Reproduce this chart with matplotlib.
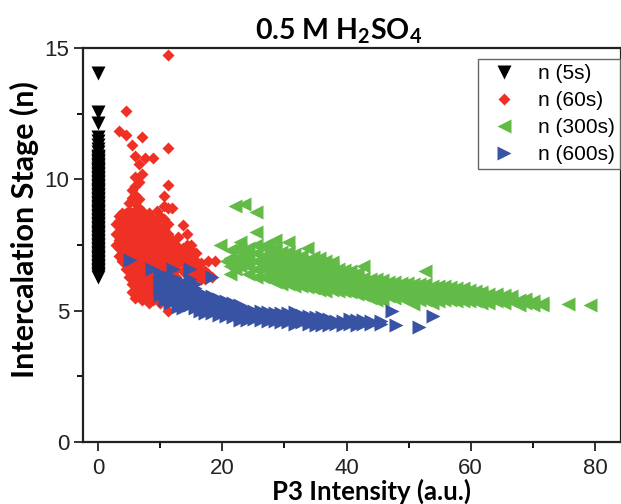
import matplotlib
matplotlib.use('Agg')
import matplotlib.pyplot as plt

# values, one (x, [y values]) entry per column of marks
y5 = [14.05, 12.55, 12.15, 11.6, 11.45, 11.3, 11.15, 11.05, 10.9, 10.85, 10.8, 10.75, 10.7, 10.65, 10.6,
      10.55, 10.5, 10.45, 10.4, 10.35, 10.3, 10.25, 10.2, 10.15, 10.1, 10.05, 10.0, 9.95, 9.9, 9.85, 9.8,
      9.75, 9.7, 9.65, 9.6, 9.55, 9.5, 9.45, 9.4, 9.35, 9.3, 9.25, 9.2, 9.15, 9.1, 9.05, 9.0, 8.95, 8.9,
      8.85, 8.8, 8.75, 8.7, 8.65, 8.6, 8.55, 8.5, 8.45, 8.4, 8.35, 8.3, 8.25, 8.2, 8.15, 8.1, 8.05, 8.0,
      7.95, 7.9, 7.85, 7.8, 7.75, 7.7, 7.65, 7.6, 7.55, 7.5, 7.45, 7.4, 7.35, 7.3, 7.25, 7.2, 7.15, 7.1,
      7.05, 7.0, 6.95, 6.9, 6.85, 6.8, 6.75, 6.7, 6.65, 6.6, 6.55, 6.5, 6.45, 6.4, 6.35, 6.3]
x5 = [0.0] * len(y5)

red_cols = [
    (2.8, [7.5, 7.9, 8.3]),
    (3.3, [7.1, 7.4, 7.7, 8.0, 8.4, 8.6, 11.85]),
    (3.8, [6.9, 7.2, 7.6, 7.9, 8.2, 8.5, 8.7]),
    (4.4, [6.6, 6.9, 7.2, 7.5, 7.8, 8.1, 8.4, 8.7, 11.7, 12.6]),
    (4.9, [6.3, 6.6, 6.9, 7.2, 7.5, 7.8, 8.1, 8.4, 8.8, 9.1]),
    (5.4, [5.7, 6.0, 6.3, 6.6, 6.9, 7.2, 7.5, 7.8, 8.1, 8.4, 8.7, 9.3, 9.6, 11.3]),
    (5.9, [5.5, 5.8, 6.1, 6.4, 6.7, 7.0, 7.3, 7.6, 7.9, 8.2, 8.5, 8.8, 9.1, 9.4, 9.75, 10.1, 10.9]),
    (6.5, [5.6, 5.9, 6.2, 6.5, 6.8, 7.1, 7.4, 7.7, 8.0, 8.3, 8.6, 8.9, 9.25, 9.9, 10.6]),
    (7.0, [5.4, 5.7, 6.0, 6.3, 6.6, 6.9, 7.2, 7.5, 7.8, 8.1, 8.4, 8.8, 10.2, 11.6]),
    (7.6, [5.5, 5.8, 6.1, 6.4, 6.7, 7.0, 7.3, 7.6, 7.9, 8.2, 8.6, 10.8]),
    (8.2, [5.3, 5.6, 5.9, 6.2, 6.5, 6.8, 7.1, 7.4, 7.7, 8.0, 8.3, 8.7]),
    (8.8, [5.4, 5.7, 6.0, 6.3, 6.6, 6.9, 7.2, 7.5, 7.8, 8.1, 8.5, 10.8]),
    (9.4, [5.5, 5.9, 6.2, 6.5, 6.8, 7.1, 7.4, 7.7, 8.0, 8.3, 8.8]),
    (10.0, [5.3, 6.4, 6.7, 7.0, 7.3, 7.6, 7.9, 8.2, 8.6]),
    (10.6, [6.6, 6.9, 7.2, 7.5, 7.8, 8.1, 8.5, 9.0, 9.35]),
    (11.3, [5.0, 6.4, 6.7, 7.0, 7.3, 7.6, 7.9, 8.3, 8.9, 9.8, 11.2, 14.75]),
    (11.9, [6.5, 6.8, 7.1, 7.4, 7.7, 8.9]),
    (12.5, [6.3, 6.6, 6.9, 7.2, 7.5]),
    (12.9, [6.8, 7.1, 7.4, 7.8]),
    (13.7, [6.5, 6.8, 7.1, 7.4, 8.25]),
    (14.3, [6.6, 6.9, 7.2, 7.5, 7.9]),
    (15.0, [6.4, 6.7, 7.0, 7.3, 7.5]),
    (15.8, [6.3, 6.6, 6.9, 7.2]),
    (16.5, [6.2, 6.5, 6.8]),
    (17.2, [6.2, 6.5]),
    (17.7, [6.4, 6.9]),
    (18.4, [6.3]),
    (18.8, [6.9]),
]

green_cols = [
    (19.6, [7.5]),
    (20.6, [6.9]),
    (21.3, [6.4, 6.7, 7.0, 7.3]),
    (22.0, [6.6, 6.95, 7.35, 9.0]),
    (22.9, [6.7, 7.0, 7.3, 7.6]),
    (23.5, [6.9, 7.2, 9.05]),
    (24.2, [6.4, 6.7, 7.0, 7.4]),
    (25.4, [6.3, 6.6, 6.9, 7.2, 7.5, 8.0, 8.75]),
    (26.5, [6.3, 6.6, 6.85, 7.1, 7.45]),
    (27.5, [6.2, 6.5, 6.75, 7.0, 7.3, 7.55]),
    (28.5, [6.1, 6.35, 6.6, 6.85, 7.1, 7.35, 7.7]),
    (29.5, [6.0, 6.25, 6.5, 6.75, 7.0, 7.25]),
    (30.6, [6.0, 6.25, 6.5, 6.75, 7.0, 7.25, 7.6]),
    (31.6, [5.95, 6.2, 6.45, 6.7, 6.95, 7.15]),
    (32.6, [5.95, 6.2, 6.45, 6.7, 6.9, 7.1]),
    (33.6, [5.9, 6.15, 6.4, 6.65, 6.9, 7.4]),
    (34.6, [5.85, 6.1, 6.35, 6.6, 6.85, 7.05]),
    (35.6, [5.8, 6.05, 6.3, 6.55, 6.8, 7.0]),
    (36.6, [5.75, 6.0, 6.25, 6.5, 6.7, 6.9]),
    (37.6, [5.8, 6.05, 6.3, 6.5, 6.7, 6.85]),
    (38.6, [5.75, 6.0, 6.2, 6.45, 6.6]),
    (39.6, [5.75, 5.95, 6.2, 6.4, 6.55]),
    (40.6, [5.7, 5.9, 6.15, 6.35, 6.5]),
    (41.6, [5.65, 5.85, 6.05, 6.3, 6.45]),
    (42.7, [5.6, 5.8, 6.0, 6.25, 6.7]),
    (43.7, [5.5, 5.75, 6.0, 6.2]),
    (44.7, [5.4, 5.7, 5.95, 6.2]),
    (45.7, [5.4, 5.7, 5.9, 6.15]),
    (46.7, [5.55, 5.75, 5.95, 6.1]),
    (47.7, [5.5, 5.7, 5.9, 6.1]),
    (48.7, [5.5, 5.7, 5.9, 6.05]),
    (49.7, [5.4, 5.65, 5.85, 6.05]),
    (50.7, [5.25, 5.55, 5.8, 6.0]),
    (51.7, [5.4, 5.6, 5.8, 6.0]),
    (52.7, [5.4, 5.6, 5.8, 6.0, 6.5]),
    (53.7, [5.3, 5.55, 5.75, 5.95]),
    (54.7, [5.35, 5.55, 5.75, 5.95]),
    (55.7, [5.4, 5.6, 5.8, 5.95]),
    (56.7, [5.4, 5.55, 5.75, 5.9]),
    (57.7, [5.35, 5.55, 5.7, 5.85]),
    (58.7, [5.35, 5.5, 5.7, 5.85]),
    (59.7, [5.35, 5.5, 5.65, 5.8]),
    (60.7, [5.35, 5.5, 5.65, 5.75]),
    (61.7, [5.3, 5.45, 5.6, 5.7]),
    (62.7, [5.3, 5.45, 5.65]),
    (64.0, [5.35, 5.55, 5.65]),
    (65.3, [5.3, 5.5, 5.6]),
    (66.5, [5.35, 5.55]),
    (67.7, [5.2, 5.4]),
    (68.8, [5.3, 5.45]),
    (70.0, [5.2, 5.35]),
    (71.5, [5.2, 5.3]),
    (75.7, [5.25]),
    (79.2, [5.2]),
]

blue_cols = [
    (5.2, [6.93]),
    (8.7, [6.6]),
    (10.0, [5.6, 5.85, 6.1, 6.45]),
    (10.8, [5.4, 5.65, 5.9, 6.15, 6.3]),
    (11.5, [5.3, 5.55, 5.8, 6.05, 6.3]),
    (12.1, [5.35, 5.6, 5.85, 6.1, 6.6]),
    (12.9, [5.15, 5.4, 5.65, 5.9, 6.15]),
    (13.7, [5.1, 5.35, 5.6, 5.85, 6.1]),
    (14.8, [5.2, 5.45, 5.7, 5.95, 6.2, 6.6]),
    (15.6, [5.1, 5.35, 5.6, 5.85, 6.0]),
    (16.4, [5.0, 5.2, 5.45, 5.7]),
    (17.2, [4.9, 5.15, 5.4, 5.6]),
    (18.4, [4.9, 5.1, 5.35, 5.55, 6.3]),
    (19.5, [4.85, 5.05, 5.3, 5.45]),
    (20.6, [4.8, 5.0, 5.2, 5.35]),
    (21.7, [4.75, 4.95, 5.15, 5.3]),
    (22.8, [4.65, 4.85, 5.05, 5.2]),
    (24.0, [4.65, 4.85, 5.05]),
    (25.1, [4.7, 4.85, 5.0]),
    (26.2, [4.65, 4.8, 5.0]),
    (27.3, [4.6, 4.8, 4.95]),
    (28.4, [4.6, 4.75, 4.9]),
    (29.5, [4.55, 4.7, 4.9]),
    (30.6, [4.55, 4.7, 4.9]),
    (31.7, [4.5, 4.7, 4.95]),
    (32.8, [4.55, 4.7, 4.85]),
    (33.9, [4.5, 4.65, 4.8]),
    (35.0, [4.45, 4.6, 4.75]),
    (36.1, [4.45, 4.6, 4.75]),
    (37.2, [4.45, 4.6, 4.7]),
    (38.3, [4.5, 4.6]),
    (39.4, [4.45, 4.6]),
    (40.5, [4.5, 4.7]),
    (41.6, [4.45, 4.6, 4.65]),
    (42.7, [4.5, 4.65]),
    (44.0, [4.5, 4.6]),
    (45.5, [4.5, 4.6]),
    (47.3, [5.0]),
    (48.0, [4.45]),
    (51.7, [4.38]),
    (54.0, [4.8]),
]

x60 = [x for x, ys in red_cols for y in ys]
y60 = [y for x, ys in red_cols for y in ys]
x300 = [x for x, ys in green_cols for y in ys]
y300 = [y for x, ys in green_cols for y in ys]
x600 = [x for x, ys in blue_cols for y in ys]
y600 = [y for x, ys in blue_cols for y in ys]

plt.rcParams['font.family'] = ['Liberation Sans', 'DejaVu Sans']

fig = plt.figure(figsize=(6.21, 5.04), dpi=100)
ax = fig.add_axes([83 / 621, 62 / 504, 538 / 621, 394 / 504])

ax.plot(x5, y5, linestyle='none', marker='v', ms=9.5, mfc='black', mec='none', label='n (5s)')
ax.plot(x60, y60, linestyle='none', marker='D', ms=6.6, mfc='#ee3124', mec='none', label='n (60s)')
ax.plot(x300, y300, linestyle='none', marker='<', ms=9.5, mfc='#62bb46', mec='none', label='n (300s)')
ax.plot(x600, y600, linestyle='none', marker='>', ms=9.5, mfc='#3953a4', mec='none', label='n (600s)')

ax.set_xlim(-2.45, 84.2)
ax.set_ylim(0, 15)
ax.set_xticks([0, 20, 40, 60, 80])
ax.set_xticks([10, 30, 50, 70], minor=True)
ax.set_yticks([0, 5, 10, 15])
ax.set_yticks([2.5, 7.5, 12.5], minor=True)
ax.tick_params(which='major', length=6.5, width=1.3, labelsize=16, colors='#222222')
ax.tick_params(axis='x', which='major', pad=5)
ax.tick_params(which='minor', length=4, width=1.3)
for s in ax.spines.values():
    s.set_linewidth(1.6)
    s.set_color('#222222')

fig.text(339 / 621, 1 - 31 / 504, '0.5 M H$_\\mathregular{2}$SO$_\\mathregular{4}$', ha='center', va='center',
         fontsize=20.5, fontweight='bold', family='Lato')
fig.text(24 / 621, 1 - 230 / 504, 'Intercalation Stage (n)', rotation=90, ha='center', va='center',
         fontsize=22, fontweight='bold', family='Lato')
fig.text(372 / 621, 1 - 491 / 504, 'P3 Intensity (a.u.)', ha='center', va='center',
         fontsize=18.5, fontweight='bold', family='Lato')

ax.legend(loc='upper right', bbox_to_anchor=(0.998, 0.972), borderaxespad=0, fontsize=15, fancybox=False,
          edgecolor='#666666', framealpha=1, labelspacing=0.38, handletextpad=0.63,
          borderpad=0.25, handlelength=2.0)

plt.savefig('out.png', dpi=100)
